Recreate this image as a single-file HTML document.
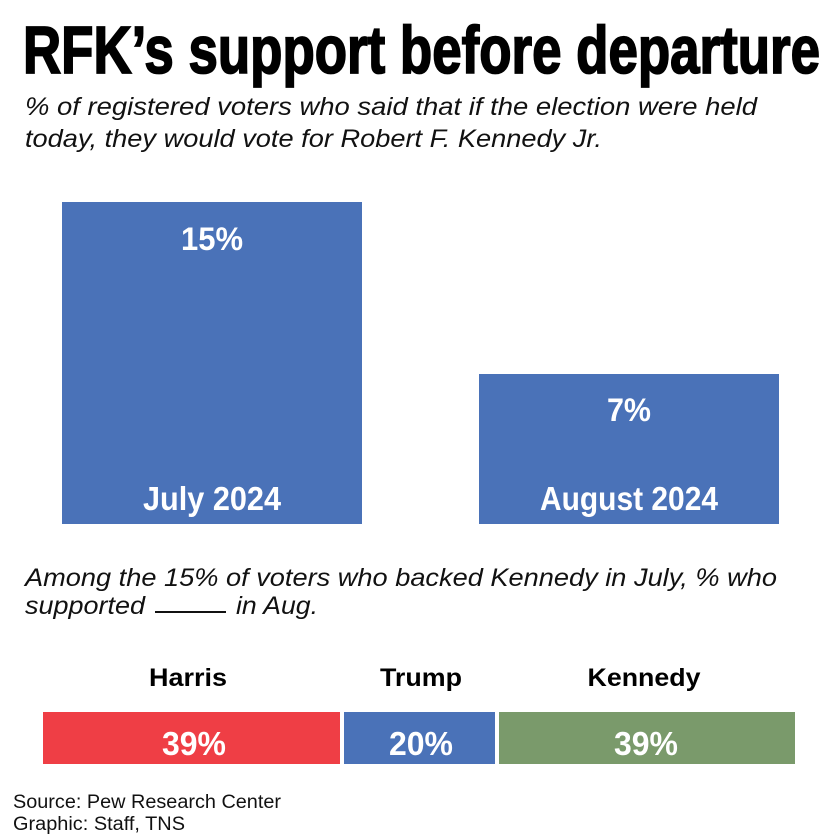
<!DOCTYPE html>
<html><head><meta charset="utf-8"><style>
html,body{margin:0;padding:0;background:#fff;}
svg{display:block;}
text{font-family:"Liberation Sans",Arial,sans-serif;}
</style></head><body>
<svg width="838" height="840" viewBox="0 0 838 840" xmlns="http://www.w3.org/2000/svg">
<rect width="838" height="840" fill="#fff"/>
<text x="23" y="73" font-size="67" font-weight="bold" textLength="797" lengthAdjust="spacingAndGlyphs" fill="#000" stroke="#000" stroke-width="1.8">RFK’s support before departure</text>
<text x="25" y="115" font-size="25" font-style="italic" textLength="732" lengthAdjust="spacingAndGlyphs" fill="#111">% of  registered voters who said that if the election were held</text>
<text x="25" y="147" font-size="25" font-style="italic" textLength="577" lengthAdjust="spacingAndGlyphs" fill="#111">today, they would vote for Robert F. Kennedy Jr.</text>

<rect x="62" y="202" width="300" height="322" fill="#4a72b8"/>
<rect x="479" y="374" width="300" height="150" fill="#4a72b8"/>
<text x="212" y="250" font-size="32" font-weight="bold" text-anchor="middle" textLength="62" lengthAdjust="spacingAndGlyphs" fill="#fff">15%</text>
<text x="212" y="510" font-size="33" font-weight="bold" text-anchor="middle" textLength="138" lengthAdjust="spacingAndGlyphs" fill="#fff">July 2024</text>
<text x="629" y="421" font-size="32" font-weight="bold" text-anchor="middle" textLength="44" lengthAdjust="spacingAndGlyphs" fill="#fff">7%</text>
<text x="629" y="510" font-size="33" font-weight="bold" text-anchor="middle" textLength="178" lengthAdjust="spacingAndGlyphs" fill="#fff">August 2024</text>

<text x="25" y="586" font-size="25" font-style="italic" textLength="752" lengthAdjust="spacingAndGlyphs" fill="#111">Among the 15% of voters who backed Kennedy in July, % who</text>
<text x="25" y="614" font-size="25" font-style="italic" textLength="120" lengthAdjust="spacingAndGlyphs" fill="#111">supported</text>
<rect x="155" y="611" width="71" height="2" fill="#111"/>
<text x="236" y="614" font-size="25" font-style="italic" textLength="82" lengthAdjust="spacingAndGlyphs" fill="#111">in Aug.</text>

<text x="188" y="686" font-size="25" font-weight="bold" text-anchor="middle" textLength="78" lengthAdjust="spacingAndGlyphs" fill="#000">Harris</text>
<text x="421" y="686" font-size="25" font-weight="bold" text-anchor="middle" textLength="82" lengthAdjust="spacingAndGlyphs" fill="#000">Trump</text>
<text x="644" y="686" font-size="25" font-weight="bold" text-anchor="middle" textLength="113" lengthAdjust="spacingAndGlyphs" fill="#000">Kennedy</text>

<rect x="43" y="712" width="297" height="52" fill="#ef3e45"/>
<rect x="344" y="712" width="151" height="52" fill="#4a72b8"/>
<rect x="499" y="712" width="296" height="52" fill="#7a9a6b"/>
<text x="194" y="755" font-size="33" font-weight="bold" text-anchor="middle" textLength="64" lengthAdjust="spacingAndGlyphs" fill="#fff">39%</text>
<text x="421" y="755" font-size="33" font-weight="bold" text-anchor="middle" textLength="64" lengthAdjust="spacingAndGlyphs" fill="#fff">20%</text>
<text x="646" y="755" font-size="33" font-weight="bold" text-anchor="middle" textLength="64" lengthAdjust="spacingAndGlyphs" fill="#fff">39%</text>

<text x="13" y="808" font-size="19" textLength="268" lengthAdjust="spacingAndGlyphs" fill="#111">Source: Pew Research Center</text>
<text x="13" y="830" font-size="19" textLength="172" lengthAdjust="spacingAndGlyphs" fill="#111">Graphic: Staff, TNS</text>
</svg>
</body></html>
